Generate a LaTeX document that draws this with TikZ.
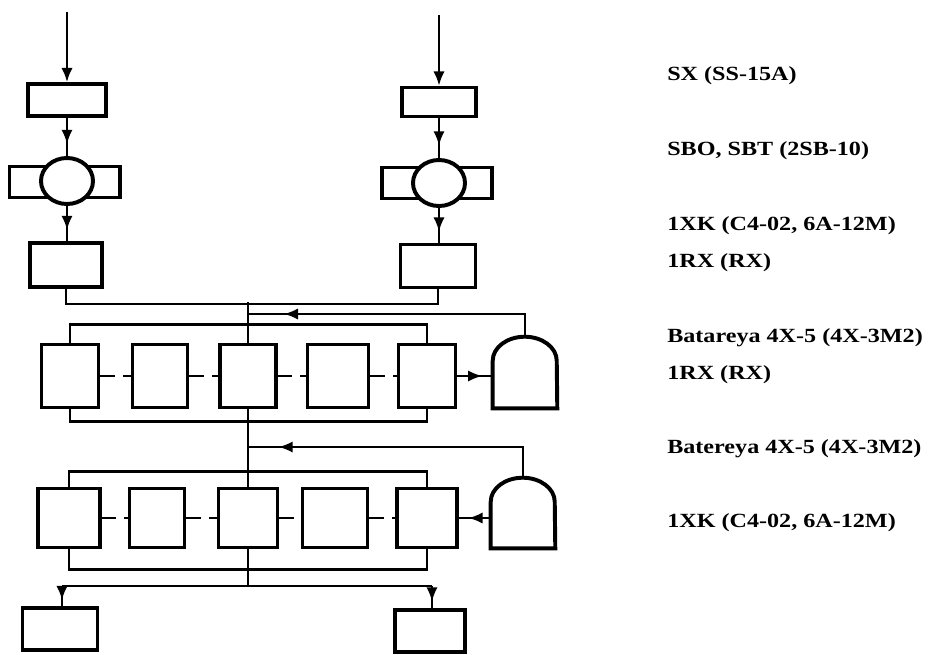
\documentclass[tikz,border=0pt]{standalone}
\usepackage{fontspec}
\setmainfont{Liberation Serif}[FakeStretch=1.2]
\usetikzlibrary{arrows.meta,shapes.geometric,decorations.markings}

\tikzset{
  box/.style={draw, line width=2.8pt, inner sep=0pt},
  pipe/.style={line width=1.5pt},
  link/.style={pipe, dash pattern=on 10pt off 6pt},
  flow/.style={pipe, -{Latex[length=10pt,width=8pt]}},
  tip/.style={pipe, postaction={decorate},
    decoration={markings, mark=at position #1 with {\arrow{Latex[length=10pt,width=8pt]}}}},
  bellbox/.style={minimum width=1.6cm, minimum height=#1, inner sep=0pt},
  lbl/.style={anchor=base west, inner sep=0pt, font=\bfseries\fontsize{14.3}{17}\selectfont}
}
\newcommand{\drawbell}[1]{\draw[line width=2.8pt] (#1.south west) -- ([yshift=-0.6cm]#1.north west)
  arc[start angle=180, end angle=0, x radius=0.8cm, y radius=0.6cm] -- (#1.south east) -- cycle;}

\begin{document}
\begin{tikzpicture}[x=0.025cm, y=-0.025cm]
      \useasboundingbox (0,0) rectangle (928,654);
      % left line
      \coordinate (inL) at (67,12);
      \node[box, minimum width=1.95cm, minimum height=0.8cm] (filtL) at (67,100) {};
      \node[box, minimum width=1.125cm, minimum height=0.775cm] (sideLa) at (32,182) {};
      \node[box, minimum width=1.0cm, minimum height=0.775cm] (sideLb) at (100,182) {};
      \node[box, ellipse, fill=white, minimum width=1.3cm, minimum height=1.15cm] (pumpL) at (67,181) {};
      \node[box, minimum width=1.8cm, minimum height=1.1cm] (heatL) at (66,265) {};
      % right line
      \coordinate (inR) at (439,15);
      \node[box, minimum width=1.85cm, minimum height=0.725cm] (filtR) at (439,102) {};
      \node[box, minimum width=1.15cm, minimum height=0.775cm] (sideRa) at (405,183) {};
      \node[box, minimum width=1.05cm, minimum height=0.775cm] (sideRb) at (471,183) {};
      \node[box, ellipse, fill=white, minimum width=1.3cm, minimum height=1.15cm] (pumpR) at (439,183) {};
      \node[box, minimum width=1.875cm, minimum height=1.075cm] (heatR) at (438,266) {};
      % first battery
      \node[box, minimum width=1.425cm, minimum height=1.575cm] (b11) at (70,376) {};
      \node[box, minimum width=1.375cm, minimum height=1.575cm] (b12) at (160,376) {};
      \node[box, minimum width=1.4cm, minimum height=1.575cm] (b13) at (248,376) {};
      \node[box, minimum width=1.525cm, minimum height=1.575cm] (b14) at (338,376) {};
      \node[box, minimum width=1.425cm, minimum height=1.575cm] (b15) at (427,376) {};
      \node[bellbox=1.775cm] (bell1) at (525,372.5) {};
      \drawbell{bell1}
      % second battery
      \node[box, minimum width=1.55cm, minimum height=1.475cm] (b21) at (69,518) {};
      \node[box, minimum width=1.375cm, minimum height=1.475cm] (b22) at (157,518) {};
      \node[box, minimum width=1.475cm, minimum height=1.475cm] (b23) at (248,518) {};
      \node[box, minimum width=1.625cm, minimum height=1.475cm] (b24) at (335,518) {};
      \node[box, minimum width=1.5cm, minimum height=1.475cm] (b25) at (427,518) {};
      \node[bellbox=1.75cm] (bell2) at (523,513) {};
      \drawbell{bell2}
      % outlets
      \node[box, minimum width=1.875cm, minimum height=1.05cm] (outL) at (60,629) {};
      \node[box, minimum width=1.75cm, minimum height=1.05cm] (outR) at (430,631) {};
      \coordinate (top) at (248,302);
      \coordinate (fb1) at (248,314);
      \coordinate (fb2) at (248,447);
      \coordinate (bot) at (248,586);
      \coordinate (oL) at (62,586);
      \coordinate (oR) at (432,586);
      % connectors
      \draw[flow] (inL) -- (filtL.north);
      \draw[tip=0.68] (filtL.south) -- (pumpL.north);
      \draw[tip=0.68] (pumpL.south) -- (pumpL.south |- heatL.north);
      \draw[flow] (inR) -- (filtR.north);
      \draw[tip=0.68] (filtR.south) -- (pumpR.north);
      \draw[tip=0.68] (pumpR.south) -- (pumpR.south |- heatR.north);
      \draw[pipe] (heatL.south) -- ++(0,15) -| (heatR.south);
      \draw[pipe] (top) -- (b13.north);
      \draw[tip=0.88] (bell1.north) |- (fb1);
      \draw[pipe] (b11.north) -- ++(0,-18) -| (b15.north);
      \draw[pipe] (b11.south) -- ++(0,12) -| (b15.south);
      \foreach \a/\b in {b11/b12, b12/b13, b13/b14, b14/b15}
        \draw[link] (\a.east) -- (\b.west);
      \draw[tip=0.7] (b15.east) -- (b15.east -| bell1.west);
      \draw[pipe] (b13.south) -- (b23.north);
      \draw[tip=0.9] (bell2.north) |- (fb2);
      \draw[pipe] (b21.north) -- ++(0,-15) -| (b25.north);
      \draw[pipe] (b21.south) -- ++(0,20) -| (b25.south);
      \foreach \a/\b in {b21/b22, b22/b23, b23/b24, b24/b25}
        \draw[link] (\a.east) -- (\b.west);
      \draw[tip=0.7] (b25.east -| bell2.west) -- (b25.east);
      \draw[pipe] (b23.south) -- (bot);
      \draw[pipe] (oL) -- (oR);
      \draw[tip=0.7] (oL) -- (oL |- outL.north);
      \draw[tip=0.7] (oR) -- (oR |- outR.north);
      % labels
      \node[lbl] (t1) at (667,80) {SX (SS-15A)};
      \node[lbl] (t2) at (667,155) {SBO, SBT (2SB-10)};
      \node[lbl] (t3) at (667,230) {1XK (C4-02, 6A-12M)};
      \node[lbl] (t4) at (667,267) {1RX (RX)};
      \node[lbl] (t5) at (667,342) {Batareya 4X-5 (4X-3M2)};
      \node[lbl] (t6) at (667,379) {1RX (RX)};
      \node[lbl] (t7) at (667,453) {Batereya 4X-5 (4X-3M2)};
      \node[lbl] (t8) at (667,527) {1XK (C4-02, 6A-12M)};
\end{tikzpicture}
\end{document}
